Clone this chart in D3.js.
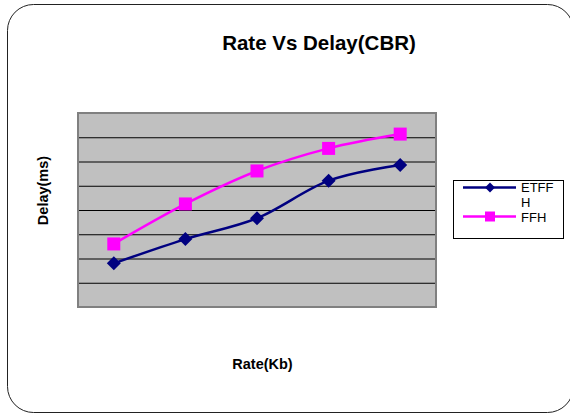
<!DOCTYPE html>
<html>
<head>
<meta charset="utf-8">
<script src="https://cdn.jsdelivr.net/npm/d3@7/dist/d3.min.js"></script>
<style>
  html, body { margin: 0; padding: 0; background: #fff; }
  svg { display: block; font-family: Arial, "Liberation Sans", sans-serif; }
</style>
</head>
<body>
<svg id="chart" width="570" height="413"></svg>
<script>
// Rate points along the x axis (labels are not shown on the axis)
const categories = ["1", "2", "3", "4", "5"];
// Delay values per series
const etffhValues = [1.80, 2.80, 3.66, 5.21, 5.86];
const ffhValues   = [2.60, 4.25, 5.61, 6.54, 7.13];
// Horizontal gridline values
const yTicks = [0, 1, 2, 3, 4, 5, 6, 7, 8];

const seriesNames = ["ETFFH", "FFH"];

const svg = d3.select("#chart");

// outer chart frame
svg.append("rect")
  .attr("x", 7.5).attr("y", 4.5)
  .attr("width", 566).attr("height", 408)
  .attr("rx", 26).attr("ry", 26)
  .attr("fill", "#fff")
  .attr("stroke", "#222").attr("stroke-width", 1);

const plot = { left: 78, top: 113, right: 436, bottom: 307 };

const x = d3.scaleBand()
  .domain(categories)
  .range([plot.left, plot.right]);

const y = d3.scaleLinear()
  .domain([0, 8])
  .range([plot.bottom, plot.top]);

// plot background
svg.append("rect")
  .attr("x", plot.left).attr("y", plot.top)
  .attr("width", plot.right - plot.left)
  .attr("height", plot.bottom - plot.top)
  .attr("fill", "#c0c0c0");

// gridlines via axis
const yAxis = d3.axisLeft(y)
  .tickValues(yTicks.slice(1, -1))
  .tickSize(-(plot.right - plot.left))
  .tickFormat("");
const gy = svg.append("g")
  .attr("transform", `translate(${plot.left},0)`)
  .call(yAxis);
gy.select(".domain").remove();
gy.selectAll(".tick line").attr("stroke", "#000").attr("stroke-width", 1);

// plot border
svg.append("rect")
  .attr("x", plot.left).attr("y", plot.top)
  .attr("width", plot.right - plot.left)
  .attr("height", plot.bottom - plot.top)
  .attr("fill", "none")
  .attr("stroke", "#808080").attr("stroke-width", 2);

const cx = c => x(c) + x.bandwidth() / 2;

const series = [
  { name: seriesNames[0], values: etffhValues, color: "#000080", mark: "diamond" },
  { name: seriesNames[1], values: ffhValues,   color: "#ff00ff", mark: "square" }
];

const line = d3.line()
  .x((d, i) => cx(categories[i]))
  .y(d => y(d))
  .curve(d3.curveCardinal.tension(0));

function drawMarker(g, s, px, py, size) {
  if (s.mark === "square") {
    g.append("rect")
      .attr("x", px - size / 2).attr("y", py - size / 2)
      .attr("width", size).attr("height", size)
      .attr("fill", s.color);
  } else {
    const h = size / 2;
    g.append("path")
      .attr("d", `M${px},${py - h}L${px + h},${py}L${px},${py + h}L${px - h},${py}Z`)
      .attr("fill", s.color);
  }
}

series.forEach(s => {
  svg.append("path")
    .datum(s.values)
    .attr("d", line)
    .attr("fill", "none")
    .attr("stroke", s.color)
    .attr("stroke-width", 2.5);
});

series.forEach(s => {
  const g = svg.append("g");
  s.values.forEach((v, i) => {
    drawMarker(g, s, cx(categories[i]), y(v), s.mark === "square" ? 13 : 14);
  });
});

// title and axis titles
svg.append("text")
  .attr("x", 319).attr("y", 50)
  .attr("text-anchor", "middle")
  .attr("font-weight", "bold").attr("font-size", 20.5)
  .text("Rate Vs Delay(CBR)");

svg.append("text")
  .attr("x", 262.5).attr("y", 369)
  .attr("text-anchor", "middle")
  .attr("font-weight", "bold").attr("font-size", 14.5)
  .text("Rate(Kb)");

svg.append("text")
  .attr("transform", "translate(47.5,190.5) rotate(-90)")
  .attr("text-anchor", "middle")
  .attr("font-weight", "bold").attr("font-size", 14.5)
  .text("Delay(ms)");

// legend
const legend = svg.append("g");
legend.append("rect")
  .attr("x", 453.5).attr("y", 180.5)
  .attr("width", 110).attr("height", 58)
  .attr("fill", "#fff")
  .attr("stroke", "#000").attr("stroke-width", 1);

const legendRows = [187.5, 216.5];
series.forEach((s, i) => {
  const ly = legendRows[i];
  legend.append("line")
    .attr("x1", 463).attr("x2", 516)
    .attr("y1", ly).attr("y2", ly)
    .attr("stroke", s.color).attr("stroke-width", 2.5);
  drawMarker(legend, s, 490, ly, 10);
});

// legend labels; the first wraps onto a second line
legend.append("text")
  .attr("x", 521).attr("y", 192)
  .attr("font-size", 13)
  .text(seriesNames[0].slice(0, 4));
legend.append("text")
  .attr("x", 521).attr("y", 207)
  .attr("font-size", 13)
  .text(seriesNames[0].slice(4));
legend.append("text")
  .attr("x", 521).attr("y", 221.5)
  .attr("font-size", 13)
  .text(seriesNames[1]);
</script>
</body>
</html>
